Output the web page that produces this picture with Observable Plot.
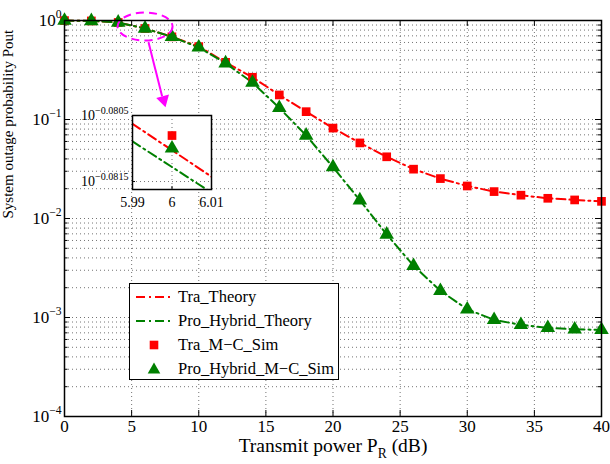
<!DOCTYPE html>
<html><head><meta charset="utf-8">
<script src="https://cdn.jsdelivr.net/npm/d3@7"></script>
<script src="https://cdn.jsdelivr.net/npm/@observablehq/plot@0.6"></script>
<style>
body{margin:0;background:#fff;}
#wrap{position:relative;width:610px;height:464px;font-family:'Liberation Serif',serif;}
#wrap svg{display:block;}
#inset{position:absolute;left:60px;top:100px;}
#legend{position:absolute;left:129px;top:283px;width:210px;height:97px;box-sizing:border-box;border:1.5px solid #000;background:#fff;}
.lrow{position:absolute;left:0;height:20px;display:flex;align-items:center;font-size:16.5px;white-space:nowrap;font-family:'Liberation Serif',serif;}
.lrow svg{margin-left:6px;margin-right:6px;}
#main text, #inset text{font-family:'Liberation Serif',serif;}
</style></head><body>
<div id="wrap"></div>
<script>
// ---------- data ----------
const powerDb = [0,2,4,6,8,10,12,14,16,18,20,22,24,26,28,30,32,34,36,38,40];
const traTheory    = [0.998,0.99,0.955,0.8302,0.684,0.545,0.378,0.267,0.177,0.120,0.0819,0.058,0.042,0.0315,0.0253,0.0213,0.0187,0.0172,0.0160,0.0154,0.0149];
const hybridTheory = [0.998,0.99,0.955,0.8299,0.684,0.535,0.370,0.236,0.131,0.069,0.033,0.0153,0.0069,0.00333,0.00186,0.00121,0.000946,0.000843,0.000785,0.00076,0.00075];
const traSim       = [0.998,0.99,0.955,0.8302,0.684,0.545,0.378,0.267,0.177,0.120,0.0819,0.058,0.042,0.0315,0.0253,0.0213,0.0187,0.0172,0.0160,0.0154,0.0149];
const hybridSim    = [0.998,0.99,0.955,0.8299,0.684,0.535,0.370,0.236,0.131,0.069,0.033,0.0153,0.0069,0.00333,0.00186,0.00121,0.000946,0.000843,0.000785,0.00076,0.00075];

const xTicks = [0,5,10,15,20,25,30,35,40];
const yTicks = [1,0.1,0.01,0.001,0.0001];
const yTickLabels = ["10^{0}","10^{−1}","10^{−2}","10^{−3}","10^{−4}"];
const xTitle = "Transmit power P_{R} (dB)";
const yTitle = "System outage probability Pout";

const legendLabels = ["Tra_Theory","Pro_Hybrid_Theory","Tra_M−C_Sim","Pro_Hybrid_M−C_Sim"];

// inset (zoom around 6 dB)
const insetPower = [5.99, 6.01];
const insetTraTheory = [0.83057, 0.82904];
const insetHybridTheory = [0.83006, 0.82858];
const insetSimPower = [6];
const insetTraSim = [0.83023];
const insetHybridSim = [0.82986];
const insetXTicks = [5.99, 6, 6.01];
const insetXTickLabels = ["5.99","6","6.01"];
const insetYTicks = [0.82890, 0.83081];
const insetYTickLabels = ["10^{−0.0815}","10^{−0.0805}"];
const insetYDomain = [0.82867, 0.83081];

// annotation: ellipse around the zoomed point and arrow towards inset
const zoomMark = [{x: 6, y: 0.87}];
const arrowLine = [{x1: 6.26, y1: 0.604, x2: 7.27, y2: 0.1715}];
const arrowHead = [{x: 7.38, y: 0.1576}];

// ---------- styling ----------
const RED = "#ff0000", GREEN = "#008000", MAG = "#ff00ff";
const DASH = "9,4,2,4";
const W = 610, H = 464, mL = 64, mR = 9, mT = 20, mB = 48;
const innerW = W - mL - mR, innerH = H - mT - mB;
const FONT = "'Liberation Serif', serif";

const tra = powerDb.map((x,i)=>({x, th: traTheory[i], sim: traSim[i]}));
const hyb = powerDb.map((x,i)=>({x, th: hybridTheory[i], sim: hybridSim[i]}));
const yAll = d3.scaleLog().domain([1e-4,1]).ticks();
const yMinor = yAll.filter(v => !yTicks.some(t => Math.abs(t - v) / t < 1e-9));
const gridStyle = {stroke: "#000", strokeOpacity: 0.55, strokeDasharray: "1,3", strokeWidth: 1};

const ellipseSymbol = {
  draw(ctx) {
    const rx = 27.5, ry = 14, k = 0.5523;
    ctx.moveTo(rx, 0);
    ctx.bezierCurveTo(rx, ry*k, rx*k, ry, 0, ry);
    ctx.bezierCurveTo(-rx*k, ry, -rx, ry*k, -rx, 0);
    ctx.bezierCurveTo(-rx, -ry*k, -rx*k, -ry, 0, -ry);
    ctx.bezierCurveTo(rx*k, -ry, rx, -ry*k, rx, 0);
    ctx.closePath();
  }
};

const main = Plot.plot({
  width: W, height: H, marginLeft: mL, marginRight: mR, marginTop: mT, marginBottom: mB,
  style: {fontFamily: FONT, background: "white", overflow: "visible", color: "#000"},
  x: {domain: [0, 40]},
  y: {type: "log", domain: [1e-4, 1]},
  marks: [
    Plot.gridX({ticks: xTicks.slice(1, -1), ...gridStyle}),
    Plot.gridY({ticks: yAll.slice(1, -1), ...gridStyle}),
    // inward ticks
    Plot.tickX(xTicks, {x: d => d, insetTop: innerH - 6, stroke: "#000"}),
    Plot.tickX(xTicks, {x: d => d, insetBottom: innerH - 6, stroke: "#000"}),
    Plot.tickY(yTicks, {y: d => d, insetRight: innerW - 6, stroke: "#000"}),
    Plot.tickY(yTicks, {y: d => d, insetLeft: innerW - 6, stroke: "#000"}),
    Plot.tickY(yMinor, {y: d => d, insetRight: innerW - 3.5, stroke: "#000"}),
    Plot.tickY(yMinor, {y: d => d, insetLeft: innerW - 3.5, stroke: "#000"}),
    Plot.axisX({ticks: xTicks, tickSize: 0, tickPadding: 3, fontSize: 17, label: null}),
    Plot.axisY({ticks: yTicks, tickSize: 0, tickPadding: 3, fontSize: 17, label: null,
      tickFormat: d => yTickLabels[yTicks.indexOf(d)]}),
    Plot.text([xTitle], {frameAnchor: "bottom", dy: 35, fontSize: 19.5, fill: "#000"}),
    Plot.text([yTitle], {frameAnchor: "left", dx: -56, rotate: -90, fontSize: 15, fill: "#000"}),
    // data
    Plot.line(tra, {x: "x", y: "th", stroke: RED, strokeWidth: 2, strokeDasharray: DASH}),
    Plot.line(hyb, {x: "x", y: "th", stroke: GREEN, strokeWidth: 2, strokeDasharray: DASH}),
    Plot.dot(tra, {x: "x", y: "sim", symbol: "square", r: 4.9, fill: RED, stroke: "none"}),
    Plot.dot(hyb, {x: "x", y: "sim", symbol: "triangle", r: 5.4, fill: GREEN, stroke: "none"}),
    // annotation
    Plot.dot(zoomMark, {x: "x", y: "y", symbol: ellipseSymbol, r: 5, fill: "none", stroke: MAG, strokeWidth: 2, strokeDasharray: "8,5"}),
    Plot.link(arrowLine, {x1: "x1", y1: "y1", x2: "x2", y2: "y2", stroke: MAG, strokeWidth: 2}),
    Plot.dot(arrowHead, {x: "x", y: "y", symbol: "triangle", r: 4.9, rotate: 165.3, fill: MAG, stroke: "none"}),
    Plot.frame({stroke: "#000", strokeWidth: 1.5})
  ]
});
main.id = "main";

// inset plot
const iW = 160, iH = 110, imL = 72, imR = 9, imT = 15, imB = 21;
const iInnerH = iH - imT - imB;
const inset = Plot.plot({
  width: iW, height: iH, marginLeft: imL, marginRight: imR, marginTop: imT, marginBottom: imB,
  style: {fontFamily: FONT, background: "transparent", overflow: "visible", color: "#000"},
  x: {domain: [5.99, 6.01]},
  y: {type: "log", domain: insetYDomain},
  marks: [
    Plot.frame({fill: "white"}),
    Plot.gridX({ticks: insetXTicks, ...gridStyle}),
    Plot.gridY({ticks: insetYTicks, ...gridStyle}),
    Plot.tickX(insetXTicks, {x: d => d, insetTop: iInnerH - 3, stroke: "#000"}),
    Plot.tickY(insetYTicks, {y: d => d, insetRight: (iW - imL - imR) - 3, stroke: "#000"}),
    Plot.axisX({ticks: insetXTicks, tickSize: 0, tickPadding: 8, fontSize: 14, label: null,
      tickFormat: d => insetXTickLabels[insetXTicks.indexOf(d)]}),
    Plot.axisY({ticks: insetYTicks, tickSize: 0, tickPadding: 4, fontSize: 14, label: null,
      tickFormat: d => insetYTickLabels[insetYTicks.indexOf(d)]}),
    Plot.line(insetPower.map((x,i)=>({x, y: insetTraTheory[i]})), {x: "x", y: "y", stroke: RED, strokeWidth: 2, strokeDasharray: DASH, clip: true}),
    Plot.line(insetPower.map((x,i)=>({x, y: insetHybridTheory[i]})), {x: "x", y: "y", stroke: GREEN, strokeWidth: 2, strokeDasharray: DASH, clip: true}),
    Plot.dot(insetSimPower.map((x,i)=>({x, y: insetTraSim[i]})), {x: "x", y: "y", symbol: "square", r: 4.9, fill: RED}),
    Plot.dot(insetSimPower.map((x,i)=>({x, y: insetHybridSim[i]})), {x: "x", y: "y", symbol: "triangle", r: 5.4, fill: GREEN}),
    Plot.frame({stroke: "#000", strokeWidth: 1.5})
  ]
});
inset.id = "inset";

const wrap = document.getElementById("wrap");
wrap.appendChild(main);
wrap.appendChild(inset);

// rich text (superscript / subscript) as tspans
function richify(root, supScale) {
  const NS = "http://www.w3.org/2000/svg";
  root.querySelectorAll("text").forEach(t => {
    const s = t.textContent;
    if (!/[\^_]\{/.test(s)) return;
    const fs = parseFloat(getComputedStyle(t).fontSize) || 16;
    const parts = s.split(/([\^_]\{[^}]*\})/).filter(p => p);
    while (t.firstChild) t.removeChild(t.firstChild);
    let shift = 0;
    for (const p of parts) {
      const ts = document.createElementNS(NS, "tspan");
      let dy = 0;
      if (p.startsWith("^{")) { ts.textContent = p.slice(2, -1); ts.setAttribute("font-size", (fs * supScale).toFixed(1)); dy = -0.45 * fs; }
      else if (p.startsWith("_{")) { ts.textContent = p.slice(2, -1); ts.setAttribute("font-size", (fs * 0.7).toFixed(1)); dy = 0.32 * fs; }
      else ts.textContent = p;
      const d = dy - shift;
      if (d) ts.setAttribute("dy", d.toFixed(1));
      shift = dy;
      t.appendChild(ts);
    }
  });
}
richify(main, 0.68);
richify(inset, 0.72);

// legend
const legend = document.createElement("div");
legend.id = "legend";
const rowTops = [3, 27, 51, 74.5];
legendLabels.forEach((lab, i) => {
  const row = document.createElement("div");
  row.className = "lrow";
  row.style.top = rowTops[i] + "px";
  const color = i % 2 === 0 ? RED : GREEN;
  let sw;
  if (i < 2) sw = `<svg width="36" height="20"><line x1="0" x2="36" y1="10" y2="10" stroke="${color}" stroke-width="2" stroke-dasharray="${DASH}"/></svg>`;
  else if (i === 2) sw = `<svg width="36" height="20"><rect x="13.7" y="5.7" width="8.6" height="8.6" fill="${color}"/></svg>`;
  else sw = `<svg width="36" height="20"><path d="M18,3.5 L24.3,14.5 L11.7,14.5 Z" fill="${color}"/></svg>`;
  row.innerHTML = sw + `<span>${lab}</span>`;
  legend.appendChild(row);
});
wrap.appendChild(legend);
</script>
</body></html>
